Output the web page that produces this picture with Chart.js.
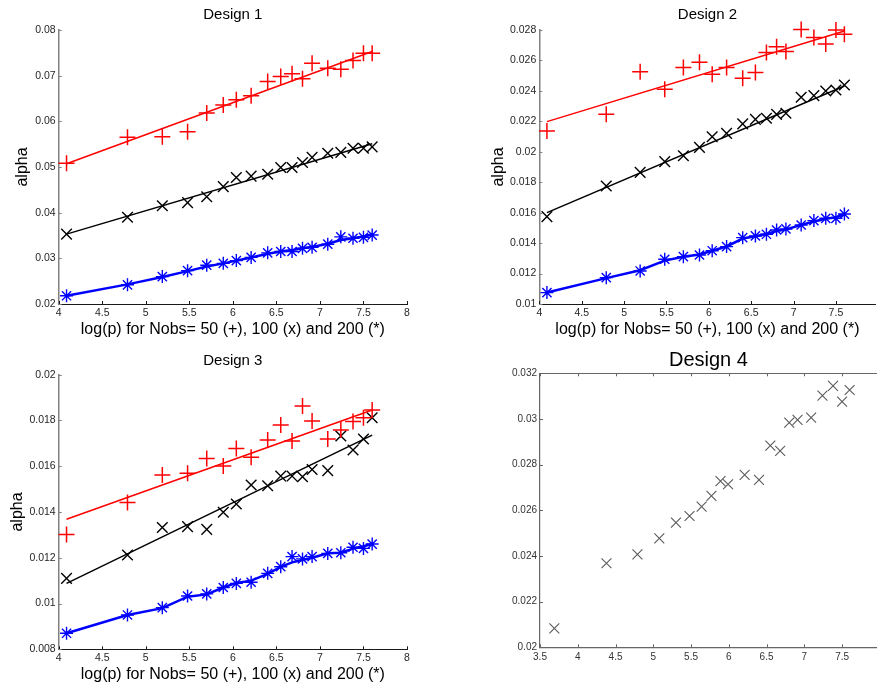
<!DOCTYPE html>
<html><head><meta charset="utf-8">
<script src="https://cdn.jsdelivr.net/npm/chart.js@4.4.0/dist/chart.umd.min.js"></script>
<style>
html,body{margin:0;padding:0;background:#fff;width:885px;height:685px;overflow:hidden}
.p{position:absolute}
canvas{display:block}
</style></head><body>
<div class="p" style="left:0;top:0"><canvas id="c1" width="440" height="340"></canvas></div>
<div class="p" style="left:440px;top:0"><canvas id="c2" width="445" height="340"></canvas></div>
<div class="p" style="left:0;top:340px"><canvas id="c3" width="440" height="345"></canvas></div>
<div class="p" style="left:440px;top:340px"><canvas id="c4" width="445" height="345"></canvas></div>
<script>
// ---------- data ----------
const logP = [4.09, 4.79, 5.19, 5.48, 5.70, 5.89, 6.04, 6.21, 6.40, 6.55, 6.68, 6.80, 6.91, 7.09, 7.24, 7.38, 7.50, 7.60];
const fitEnds = [4.09, 7.60];

const d1Plus = [0.0508, 0.0565, 0.0566, 0.0577, 0.0618, 0.0636, 0.0647, 0.0656, 0.0687, 0.0698, 0.0704, 0.0693, 0.0727, 0.0716, 0.0714, 0.0733, 0.0749, 0.0749];
const d1PlusFit = [0.0507, 0.0753];
const d1Cross = [0.0353, 0.0390, 0.0415, 0.0422, 0.0435, 0.0457, 0.0477, 0.0480, 0.0484, 0.0499, 0.0499, 0.0510, 0.0521, 0.0530, 0.0532, 0.0541, 0.0541, 0.0544];
const d1CrossFit = [0.0353, 0.0551];
const d1Star = [0.0218, 0.0242, 0.0260, 0.0273, 0.0285, 0.0289, 0.0295, 0.0302, 0.0312, 0.0315, 0.0315, 0.0322, 0.0324, 0.0331, 0.0347, 0.0344, 0.0346, 0.0351];
const d1StarFit = [0.0218, 0.0243, 0.0259, 0.0272, 0.0282, 0.0289, 0.0295, 0.0302, 0.0310, 0.0315, 0.0318, 0.0322, 0.0325, 0.0332, 0.0340, 0.0344, 0.0348, 0.0352];

const d2Plus = [0.02137, 0.02246, 0.02526, 0.02410, 0.02553, 0.02588, 0.02509, 0.02553, 0.02483, 0.02520, 0.02653, 0.02690, 0.02658, 0.02804, 0.02750, 0.02708, 0.02800, 0.02772];
const d2PlusFit = [0.02198, 0.02793];
const d2Cross = [0.01574, 0.01775, 0.01865, 0.01935, 0.01974, 0.02029, 0.02099, 0.02121, 0.02183, 0.02213, 0.02220, 0.02246, 0.02253, 0.02358, 0.02369, 0.02399, 0.02406, 0.02439];
const d2CrossFit = [0.01600, 0.02432];
const d2Star = [0.01075, 0.01173, 0.01217, 0.01294, 0.01311, 0.01322, 0.01350, 0.01377, 0.01436, 0.01447, 0.01458, 0.01486, 0.01493, 0.01519, 0.01548, 0.01563, 0.01563, 0.01591];
const d2StarFit = [0.01075, 0.01170, 0.01222, 0.01285, 0.01310, 0.01325, 0.01350, 0.01378, 0.01430, 0.01445, 0.01460, 0.01480, 0.01490, 0.01520, 0.01542, 0.01560, 0.01570, 0.01588];

const d3Plus = [0.01302, 0.01441, 0.01562, 0.01569, 0.01634, 0.01601, 0.01678, 0.01639, 0.01715, 0.01780, 0.01710, 0.01863, 0.01798, 0.01719, 0.01758, 0.01795, 0.01812, 0.01846];
const d3PlusFit = [0.01368, 0.01846];
const d3Cross = [0.01110, 0.01212, 0.01332, 0.01336, 0.01324, 0.01399, 0.01435, 0.01518, 0.01515, 0.01557, 0.01557, 0.01554, 0.01586, 0.01581, 0.01732, 0.01671, 0.01719, 0.01812];
const d3CrossFit = [0.01088, 0.01736];
const d3Star = [0.00870, 0.00950, 0.00982, 0.01033, 0.01042, 0.01070, 0.01088, 0.01093, 0.01132, 0.01161, 0.01205, 0.01195, 0.01205, 0.01219, 0.01222, 0.01246, 0.01241, 0.01260];
const d3StarFit = [0.00870, 0.00950, 0.00980, 0.01030, 0.01040, 0.01070, 0.01090, 0.01100, 0.01130, 0.01160, 0.01180, 0.01190, 0.01200, 0.01220, 0.01222, 0.01240, 0.01250, 0.01260];

const d4X = [3.69, 4.38, 4.79, 5.08, 5.30, 5.48, 5.64, 5.77, 5.89, 5.99, 6.21, 6.40, 6.55, 6.68, 6.80, 6.91, 7.09, 7.24, 7.38, 7.50, 7.60];
const d4Y = [0.02083, 0.02368, 0.02407, 0.02477, 0.02546, 0.02575, 0.02616, 0.02663, 0.02728, 0.02714, 0.02755, 0.02733, 0.02883, 0.02860, 0.02984, 0.02996, 0.03006, 0.03102, 0.03145, 0.03076, 0.03127];

const ticksX13 = [4, 4.5, 5, 5.5, 6, 6.5, 7, 7.5, 8];
const ticksX2 = [4, 4.5, 5, 5.5, 6, 6.5, 7, 7.5];
const ticksX4 = [3.5, 4, 4.5, 5, 5.5, 6, 6.5, 7, 7.5];
const ticksY1 = [0.02, 0.03, 0.04, 0.05, 0.06, 0.07, 0.08];
const ticksY2 = [0.01, 0.012, 0.014, 0.016, 0.018, 0.02, 0.022, 0.024, 0.026, 0.028];
const ticksY3 = [0.008, 0.01, 0.012, 0.014, 0.016, 0.018, 0.02];
const ticksY4 = [0.02, 0.022, 0.024, 0.026, 0.028, 0.03, 0.032];

const xLabel = 'log(p) for Nobs= 50 (+), 100 (x) and 200 (*)';

// ---------- helpers ----------
Chart.defaults.font.family = '"Liberation Sans", Arial, sans-serif';
Chart.defaults.animation = false;

function pts(xs, ys){ return ys.map((y,i)=>({x:xs[i], y})); }
function markers(xs, ys, style, color, r, w){
  return {data: pts(xs, ys), showLine:false, pointStyle:style, pointRadius:r, pointHoverRadius:r,
    pointBorderColor:color, pointBackgroundColor:color, pointBorderWidth:w, clip:false};
}
function fitLine(xs, ys, color, w){
  return {data: pts(xs, ys), showLine:true, pointRadius:0, borderColor:color, borderWidth:w, tension:0, clip:false};
}
const fmt = v => String(+Number(v).toFixed(4));

const inward = {
  id:'inward',
  afterDraw(chart, args, o){
    const {ctx, chartArea:a, scales:{x, y}} = chart;
    ctx.save();
    ctx.lineWidth = 1;
    ctx.strokeStyle = o.xColor;
    x.ticks.forEach(t=>{
      const px = Math.round(x.getPixelForValue(t.value))+0.5;
      ctx.beginPath(); ctx.moveTo(px, a.bottom); ctx.lineTo(px, a.bottom - o.len); ctx.stroke();
      if (o.top){ ctx.beginPath(); ctx.moveTo(px, a.top); ctx.lineTo(px, a.top + o.len); ctx.stroke(); }
    });
    ctx.strokeStyle = o.yColor;
    y.ticks.forEach(t=>{
      const py = Math.round(y.getPixelForValue(t.value))+0.5;
      ctx.beginPath(); ctx.moveTo(a.left, py); ctx.lineTo(a.left + o.len, py); ctx.stroke();
    });
    if (o.top){
      ctx.strokeStyle = o.xColor; ctx.lineWidth = 1.2;
      ctx.beginPath(); ctx.moveTo(a.left, Math.round(a.top)+0.5); ctx.lineTo(a.right, Math.round(a.top)+0.5); ctx.stroke();
    }
    ctx.restore();
  }
};

function make(id, c){
  new Chart(document.getElementById(id), {
    type:'scatter',
    data:{datasets:c.datasets},
    plugins:[inward],
    options:{
      responsive:false, animation:false, events:[],
      layout:{padding:{left:0, right:c.padRight, top:0, bottom:0}},
      plugins:{
        legend:{display:false}, tooltip:{enabled:false},
        title:{display:true, text:c.title, color:'#000', fullSize:false,
          font:{size:c.titleSize, weight:'normal'}, padding:c.titlePad},
        inward:{len:3, xColor:c.xBorder, yColor:c.yBorder, top:!!c.box}
      },
      scales:{
        x:{type:'linear', min:c.xMin, max:c.xMax,
          afterBuildTicks:s=>{ s.ticks = c.xTicks.map(v=>({value:v})); },
          afterFit:s=>{ s.height = c.xHeight; },
          grid:{display:false, drawTicks:false, tickLength:0},
          border:{display:true, color:c.xBorder, width:c.xBorderW},
          ticks:{color:c.tickColor, font:{size:c.tickSize}, padding:c.xTickPad, maxRotation:0, autoSkip:false, callback:fmt},
          title:{display:!!c.xTitle, text:c.xTitle, color:'#000', font:{size:16}, padding:{top:0, bottom:0.4}}
        },
        y:{type:'linear', min:c.yMin, max:c.yMax,
          afterBuildTicks:s=>{ s.ticks = c.yTicks.map(v=>({value:v})); },
          afterFit:s=>{ s.width = c.yWidth; },
          grid:{display:false, drawTicks:false, tickLength:0},
          border:{display:true, color:c.yBorder, width:c.yBorderW},
          ticks:{color:c.tickColor, font:{size:c.tickSize}, padding:3, autoSkip:false, callback:fmt},
          title:{display:!!c.yTitle, text:c.yTitle, color:'#000', font:{size:16}, padding:{top:c.yTitlePad, bottom:0}}
        }
      }
    }
  });
}

const RED='#ff0000', BLK='#000000', BLU='#0000ff';
function threeSeries(p, pf, cr, cf, st, sf){
  return [
    markers(logP, p, 'cross', RED, 8, 1.5),
    fitLine(fitEnds, pf, RED, 1.5),
    markers(logP, cr, 'crossRot', BLK, 7.5, 1.4),
    fitLine(fitEnds, cf, BLK, 1.5),
    markers(logP, st, 'star', BLU, 6.5, 1.4),
    fitLine(logP, sf, BLU, 2.5)
  ];
}

const common = {titleSize:15, tickSize:10.5, tickColor:'#262626', xTickPad:3,
  xBorder:'#1a1a1a', xBorderW:1, yBorder:'#808080', yBorderW:1.5, xTitle:xLabel, yTitle:'alpha'};

make('c1', Object.assign({}, common, {
  title:'Design 1', titlePad:{top:6.3, bottom:5.7}, padRight:33,
  xMin:4, xMax:8, xTicks:ticksX13, yMin:0.02, yMax:0.08, yTicks:ticksY1,
  xHeight:36, yWidth:58.7, yTitlePad:13.1,
  datasets: threeSeries(d1Plus, d1PlusFit, d1Cross, d1CrossFit, d1Star, d1StarFit)
}));
make('c2', Object.assign({}, common, {
  title:'Design 2', titlePad:{top:6.3, bottom:5.7}, padRight:0,
  xMin:4, xMax:7.967, xTicks:ticksX2, yMin:0.01, yMax:0.028, yTicks:ticksY2,
  xHeight:36, yWidth:99.3, yTitlePad:48.7,
  datasets: threeSeries(d2Plus, d2PlusFit, d2Cross, d2CrossFit, d2Star, d2StarFit)
}));
make('c3', Object.assign({}, common, {
  title:'Design 3', titlePad:{top:11.7, bottom:5}, padRight:33,
  xMin:4, xMax:8, xTicks:ticksX13, yMin:0.008, yMax:0.02, yTicks:ticksY3,
  xHeight:35.7, yWidth:58.7, yTitlePad:7.7,
  datasets: threeSeries(d3Plus, d3PlusFit, d3Cross, d3CrossFit, d3Star, d3StarFit)
}));
make('c4', {
  title:'Design 4', titleSize:20, titlePad:{top:8.7, bottom:0.6}, padRight:0,
  tickSize:10, tickColor:'#333', xTickPad:4,
  xBorder:'#666666', xBorderW:1.2, yBorder:'#666666', yBorderW:1.2, box:true,
  xMin:3.5, xMax:7.961, xTicks:ticksX4, yMin:0.02, yMax:0.032, yTicks:ticksY4,
  xHeight:37.7, yWidth:100, yTitlePad:0,
  datasets:[ markers(d4X, d4Y, 'crossRot', '#5a5a5a', 7, 1.1) ]
});
</script>
</body></html>
